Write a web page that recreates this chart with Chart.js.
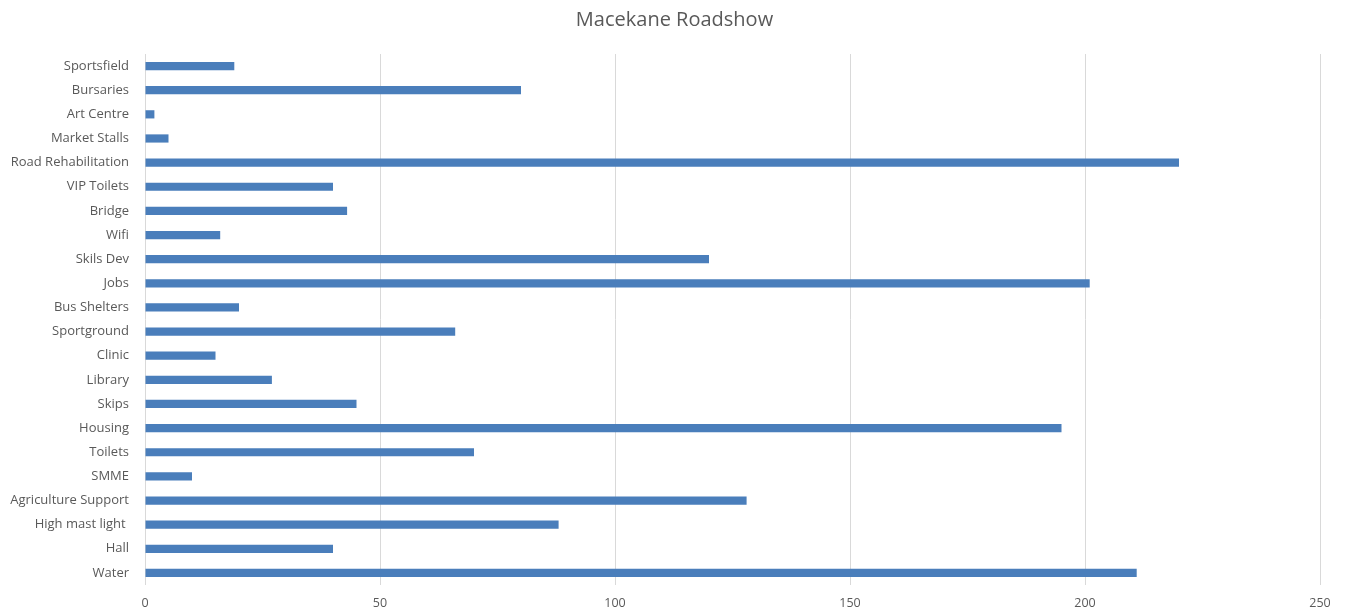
<!DOCTYPE html>
<html>
<head>
<meta charset="utf-8">
<title>Macekane Roadshow</title>
<script src="https://cdn.jsdelivr.net/npm/chart.js@4/dist/chart.umd.min.js"></script>
<style>
    html, body { margin: 0; padding: 0; background: #fff; }
    #wrap { width: 1349px; height: 612px; }
</style>
</head>
<body>
<div id="wrap"><canvas id="roadshow" width="1349" height="612"></canvas></div>
<script>
// Requests raised at the roadshow, top to bottom
const needs = [
    'Sportsfield', 'Bursaries', 'Art Centre', 'Market Stalls', 'Road Rehabilitation',
    'VIP Toilets', 'Bridge', 'Wifi', 'Skils Dev', 'Jobs', 'Bus Shelters', 'Sportground',
    'Clinic', 'Library', 'Skips', 'Housing', 'Toilets', 'SMME', 'Agriculture Support',
    'High mast light ', 'Hall', 'Water'
];
const counts = [
    19, 80, 2, 5, 220,
    40, 43, 16, 120, 201, 20, 66,
    15, 27, 45, 195, 70, 10, 128,
    88, 40, 211
];
const xTicks = [0, 50, 100, 150, 200, 250];

const grey = '#595959';
const fontFamily = '"Open Sans", Lato, sans-serif';

const ctx = document.getElementById('roadshow').getContext('2d');
new Chart(ctx, {
    type: 'bar',
    data: {
        labels: needs,
        datasets: [{
            data: counts,
            backgroundColor: '#4a7ebb',
            borderWidth: 0,
            categoryPercentage: 1,
            barPercentage: 0.34
        }]
    },
    options: {
        indexAxis: 'y',
        responsive: false,
        animation: false,
        layout: { padding: 0 },
        plugins: {
            legend: { display: false },
            tooltip: { enabled: false },
            title: {
                display: true,
                text: 'Macekane Roadshow',
                color: grey,
                font: { family: fontFamily, size: 20, weight: 'normal' },
                padding: { top: 8, bottom: 22 }
            }
        },
        scales: {
            x: {
                min: 0,
                max: 250,
                afterBuildTicks: scale => {
                    scale.ticks = xTicks.map(v => ({ value: v }));
                },
                afterFit: scale => {
                    scale.height = 27;
                    // keep empty space right of the 250 line
                    scale.paddingRight = 29;
                },
                grid: { color: '#d9d9d9', drawTicks: false },
                border: { display: false },
                ticks: {
                    color: grey,
                    padding: 11,
                    font: { family: fontFamily, size: 12.5 }
                }
            },
            y: {
                afterFit: scale => { scale.width = 145; },
                grid: { display: false, drawTicks: false },
                border: { display: false },
                ticks: {
                    color: grey,
                    padding: 16,
                    autoSkip: false,
                    font: { family: fontFamily, size: 13 }
                }
            }
        }
    }
});
</script>
</body>
</html>
